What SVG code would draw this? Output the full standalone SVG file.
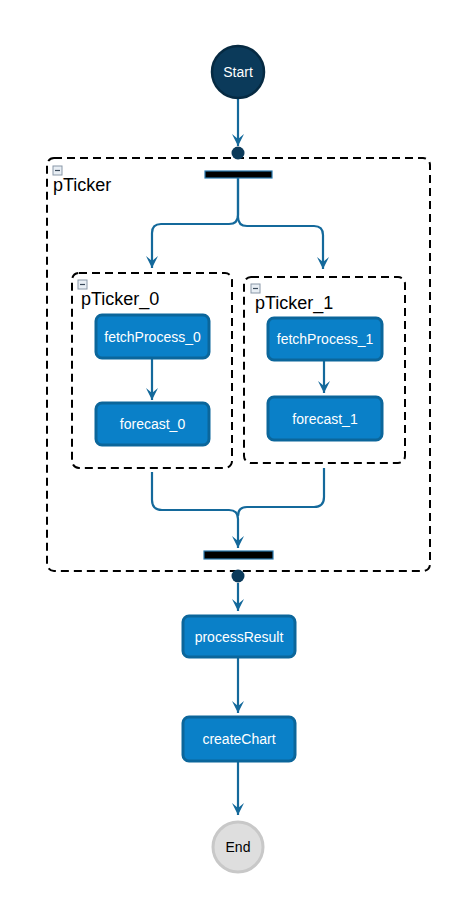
<svg xmlns="http://www.w3.org/2000/svg" width="468" height="915" viewBox="0 0 468 915">
  <style>
    .conn { fill: none; stroke: #14699b; stroke-width: 2.2; }
    .act { fill: #0a80c8; stroke: #0b669b; stroke-width: 3; }
    .lbl { font-family: "Liberation Sans", Arial, sans-serif; font-size: 14px; fill: #ffffff; text-anchor: middle; }
    .grp { fill: none; stroke: #000000; stroke-width: 2; stroke-dasharray: 8 5; }
    .glbl { font-family: "Liberation Sans", Arial, sans-serif; font-size: 18px; fill: #000000; }
    .bar { fill: #000000; stroke: #2a7ab0; stroke-width: 1.2; }
    .dot { fill: #0b3a5a; }
    .icon { fill: #e8eef4; stroke: #8a98a8; stroke-width: 1; }
    .iconm { stroke: #3a4a5a; stroke-width: 1.2; }
  </style>
  <defs>
    <marker id="arr" viewBox="-13 -7 14 14" refX="0" refY="0" markerWidth="14" markerHeight="14" markerUnits="userSpaceOnUse" orient="auto">
      <path d="M0 0 L-12 -6 L-7 0 L-12 6 Z" fill="#14699b"/>
    </marker>
  </defs>

  <rect width="468" height="915" fill="#ffffff"/>

  <g id="pTicker">
    <rect class="grp" x="47" y="158" width="383" height="413" rx="7"/>
    <rect class="icon" x="53" y="166" width="9" height="9"/>
    <line class="iconm" x1="55" y1="170.5" x2="60" y2="170.5"/>
    <text class="glbl" x="53" y="191">pTicker</text>
  </g>

  <g id="pTicker_0">
    <rect class="grp" x="72" y="273" width="160" height="195" rx="7"/>
    <rect class="icon" x="78" y="280" width="9" height="9"/>
    <line class="iconm" x1="80" y1="284.5" x2="85" y2="284.5"/>
    <text class="glbl" x="81" y="305">pTicker_0</text>
  </g>

  <g id="pTicker_1">
    <rect class="grp" x="244" y="277" width="161" height="186" rx="7"/>
    <rect class="icon" x="251" y="284" width="9" height="9"/>
    <line class="iconm" x1="253" y1="288.5" x2="258" y2="288.5"/>
    <text class="glbl" x="255" y="309">pTicker_1</text>
  </g>

  <g id="connectors">
    <path class="conn" d="M238 99 V146" marker-end="url(#arr)"/>
    <path class="conn" d="M238 178 V215 Q238 224 229 224 H161 Q152 224 152 233 V268" marker-end="url(#arr)"/>
    <path class="conn" d="M238 178 V217 Q238 226 247 226 H314 Q323 226 323 235 V269" marker-end="url(#arr)"/>
    <path class="conn" d="M152 358 V400" marker-end="url(#arr)"/>
    <path class="conn" d="M324 361 V393" marker-end="url(#arr)"/>
    <path class="conn" d="M152 472 V500 Q152 510 162 510 H229 Q238 510 238 519 V548" marker-end="url(#arr)"/>
    <path class="conn" d="M324 468 V497 Q324 507 314 507 H247 Q238 507 238 516"/>
    <path class="conn" d="M238 583 V611" marker-end="url(#arr)"/>
    <path class="conn" d="M238 658 V713" marker-end="url(#arr)"/>
    <path class="conn" d="M238 762 V815" marker-end="url(#arr)"/>
  </g>

  <g id="start">
    <circle cx="238" cy="72" r="26" fill="#0b3a5a" stroke="#062a42" stroke-width="2.5"/>
    <text class="lbl" x="238" y="77">Start</text>
  </g>

  <g id="entry_dot">
    <circle class="dot" cx="238" cy="153" r="6.5"/>
  </g>

  <g id="fork">
    <rect class="bar" x="205" y="171" width="67" height="7"/>
  </g>

  <g id="fetchProcess_0">
    <rect class="act" x="96" y="315" width="113" height="43" rx="6"/>
    <text class="lbl" x="152.5" y="341.5">fetchProcess_0</text>
  </g>

  <g id="forecast_0">
    <rect class="act" x="96" y="403" width="113" height="42" rx="6"/>
    <text class="lbl" x="152.5" y="429">forecast_0</text>
  </g>

  <g id="fetchProcess_1">
    <rect class="act" x="268" y="318" width="114" height="42" rx="6"/>
    <text class="lbl" x="325" y="344">fetchProcess_1</text>
  </g>

  <g id="forecast_1">
    <rect class="act" x="268" y="397" width="114" height="43" rx="6"/>
    <text class="lbl" x="325" y="423.5">forecast_1</text>
  </g>

  <g id="join">
    <rect class="bar" x="204" y="551" width="69" height="8"/>
  </g>

  <g id="exit_dot">
    <circle class="dot" cx="238" cy="576" r="6.5"/>
  </g>

  <g id="processResult">
    <rect class="act" x="183" y="616" width="112" height="41" rx="6"/>
    <text class="lbl" x="239" y="641.5">processResult</text>
  </g>

  <g id="createChart">
    <rect class="act" x="183" y="717" width="112" height="44" rx="6"/>
    <text class="lbl" x="239" y="744">createChart</text>
  </g>

  <g id="end">
    <circle cx="238" cy="847" r="25" fill="#dedede" stroke="#c8c8c8" stroke-width="3"/>
    <text class="lbl" x="238" y="852" style="fill:#000000">End</text>
  </g>
</svg>
